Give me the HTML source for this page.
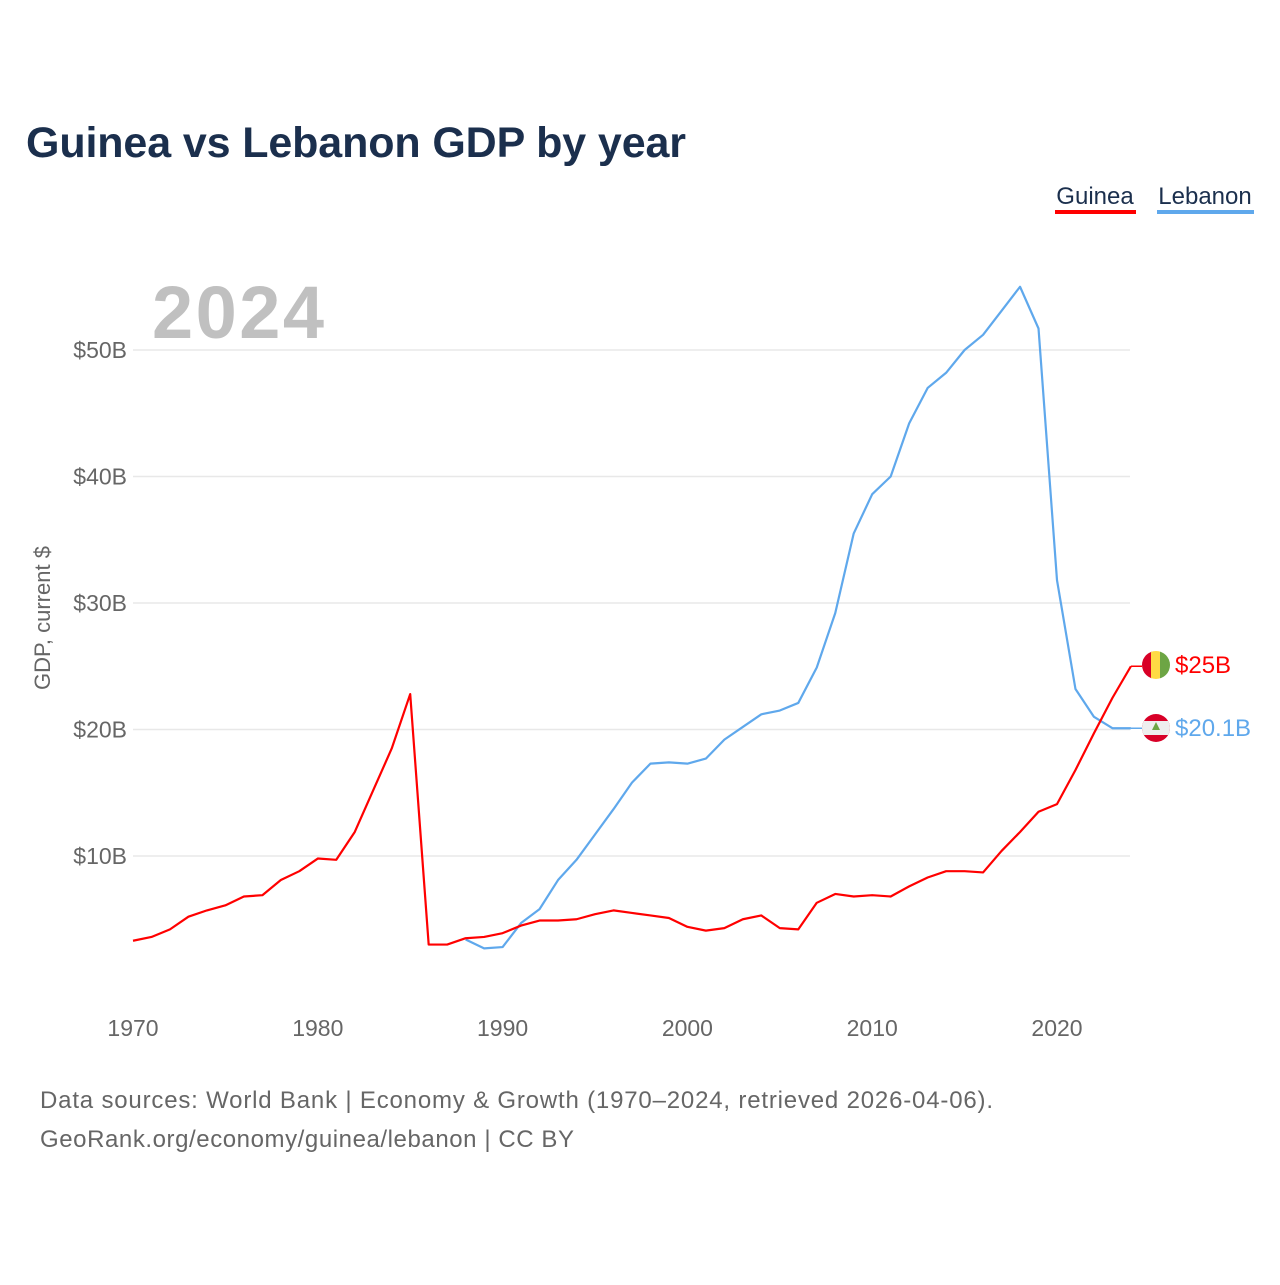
<!DOCTYPE html>
<html><head><meta charset="utf-8"><style>
body{margin:0;background:#fff;font-family:"Liberation Sans",sans-serif}
svg text{font-family:"Liberation Sans",sans-serif}
</style></head><body>
<svg width="1280" height="1280" viewBox="0 0 1280 1280">
<text x="26" y="157" font-size="43" font-weight="bold" fill="#1b2f4d" textLength="660">Guinea vs Lebanon GDP by year</text>
<g><text x="1095" y="204" font-size="24" fill="#1b2f4d" text-anchor="middle">Guinea</text><rect x="1055" y="210" width="81" height="4" fill="#ff0000"/></g>
<g><text x="1205" y="204" font-size="24" fill="#1b2f4d" text-anchor="middle">Lebanon</text><rect x="1157" y="210" width="97" height="4" fill="#5fa8ec"/></g>
<text x="152" y="338" font-size="74" font-weight="bold" fill="#c0c0c0" textLength="172">2024</text>
<text transform="translate(50,618) rotate(-90)" font-size="22" fill="#666" text-anchor="middle">GDP, current $</text>
<g id="grid"></g><g id="yticks"></g><g id="xticks"></g><g id="lines"></g>
<g>
<clipPath id="cg"><circle cx="1156" cy="665" r="14"/></clipPath>
<g clip-path="url(#cg)"><rect x="1142" y="651" width="10" height="28" fill="#d80027"/><rect x="1151" y="651" width="10" height="28" fill="#ffda44"/><rect x="1160" y="651" width="10" height="28" fill="#6da544"/></g>
<text x="1175" y="673" font-size="24" fill="#ff0000">$25B</text></g>
<g>
<clipPath id="cl"><circle cx="1156" cy="728" r="14"/></clipPath>
<g clip-path="url(#cl)"><rect x="1142" y="714" width="28" height="28" fill="#d80027"/><rect x="1142" y="721" width="28" height="14" fill="#eee"/><path d="M1156 722 l4 8 h-8z" fill="#6da544"/></g>
<text x="1175" y="736" font-size="24" fill="#5fa8ec">$20.1B</text></g>
<text x="40" y="1108" font-size="24" fill="#666" textLength="953">Data sources: World Bank | Economy &amp; Growth (1970–2024, retrieved 2026-04-06).</text>
<text x="40" y="1147" font-size="24" fill="#666" textLength="534">GeoRank.org/economy/guinea/lebanon | CC BY</text>
</svg>
<script>
const years=[];for(let y=1970;y<=2024;y++)years.push(y);
const guinea=[3.3,3.6,4.2,5.2,5.7,6.1,6.8,6.9,8.1,8.8,9.8,9.7,11.9,15.2,18.5,22.8,3.0,3.0,3.5,3.6,3.9,4.5,4.9,4.9,5.0,5.4,5.7,5.5,5.3,5.1,4.4,4.1,4.3,5.0,5.3,4.3,4.2,6.3,7.0,6.8,6.9,6.8,7.6,8.3,8.8,8.8,8.7,10.4,11.9,13.5,14.1,16.8,19.7,22.5,25.0];
const lebanonYears=[1988,1989,1990,1991,1992,1993,1994,1995,1996,1997,1998,1999,2000,2001,2002,2003,2004,2005,2006,2007,2008,2009,2010,2011,2012,2013,2014,2015,2016,2017,2018,2019,2020,2021,2022,2023,2024];
const lebanon=[3.4,2.7,2.8,4.7,5.8,8.1,9.7,11.7,13.7,15.8,17.3,17.4,17.3,17.7,19.2,20.2,21.2,21.5,22.1,24.9,29.2,35.5,38.6,40.0,44.2,47.0,48.2,50.0,51.2,53.1,55.0,51.7,31.8,23.2,21.0,20.1,20.1];
const yTicks=[10,20,30,40,50];const yTickLabels=["$10B","$20B","$30B","$40B","$50B"];
const xTicks=[1970,1980,1990,2000,2010,2020];
const X=y=>133+(y-1970)*18.48, Y=v=>982.5-v*12.65;
const NS="http://www.w3.org/2000/svg";
function mk(t,a,p){const e=document.createElementNS(NS,t);for(const k in a)e.setAttribute(k,a[k]);document.getElementById(p).appendChild(e);return e;}
yTicks.forEach((v,i)=>{
 const g=mk('line',{x1:133,x2:1130,y1:Y(v),y2:Y(v),stroke:'#e8e8e8','stroke-width':1.5},'grid');
 
 
 const t=mk('text',{x:127,y:Y(v)+8,'font-size':23,fill:'#666','text-anchor':'end'},'yticks');t.textContent=yTickLabels[i];
 
 
});
xTicks.forEach(y=>{
 const t=mk('text',{x:X(y),y:1036,'font-size':23,fill:'#666','text-anchor':'middle'},'xticks');t.textContent=y;
 
 
});
const lp=lebanonYears.map((y,i)=>X(y)+','+Y(lebanon[i])).join(' ');
const l=mk('polyline',{points:lp,fill:'none',stroke:'#5fa8ec','stroke-width':2.2,'stroke-linejoin':'round'},'lines');


const ll=mk('line',{x1:X(2024),x2:1142,y1:Y(lebanon[lebanon.length-1]),y2:Y(lebanon[lebanon.length-1]),stroke:'#5fa8ec','stroke-width':1.5},'lines');


const gp=years.map((y,i)=>X(y)+','+Y(guinea[i])).join(' ');
const g=mk('polyline',{points:gp,fill:'none',stroke:'#ff0000','stroke-width':2.2,'stroke-linejoin':'round'},'lines');


const gl=mk('line',{x1:X(2024),x2:1142,y1:Y(guinea[guinea.length-1]),y2:Y(guinea[guinea.length-1]),stroke:'#ff0000','stroke-width':1.5},'lines');


</script>
</body></html>
